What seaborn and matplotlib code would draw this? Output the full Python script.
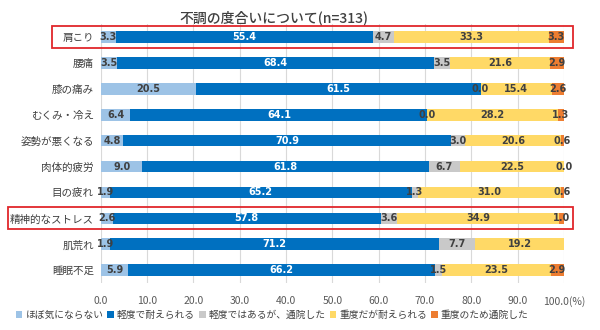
import numpy as np
import pandas as pd
import matplotlib
matplotlib.use("Agg")
import matplotlib.pyplot as plt
import seaborn as sns
from matplotlib.patches import Rectangle, Patch
from matplotlib.transforms import blended_transform_factory

sns.set_style("white")
plt.rcParams['font.family'] = ['Noto Sans CJK JP', 'DejaVu Sans']

title = "不調の度合いについて(n=313)"
categories = ["肩こり", "腰痛", "膝の痛み", "むくみ・冷え", "姿勢が悪くなる",
              "肉体的疲労", "目の疲れ", "精神的なストレス", "肌荒れ", "睡眠不足"]
series_names = ["ほぼ気にならない", "軽度で耐えられる", "軽度ではあるが、通院した",
                "重度だが耐えられる", "重度のため通院した"]
s_none = [3.3, 3.5, 20.5, 6.4, 4.8, 9.0, 1.9, 2.6, 1.9, 5.9]
s_light = [55.4, 68.4, 61.5, 64.1, 70.9, 61.8, 65.2, 57.8, 71.2, 66.2]
s_light_hosp = [4.7, 3.5, 0.0, 0.0, 3.0, 6.7, 1.3, 3.6, 7.7, 1.5]
s_severe = [33.3, 21.6, 15.4, 28.2, 20.6, 22.5, 31.0, 34.9, 19.2, 23.5]
s_severe_hosp = [3.3, 2.9, 2.6, 1.3, 0.6, 0.0, 0.6, 1.0, np.nan, 2.9]
highlight = ["肩こり", "精神的なストレス"]
xticks = [0, 10, 20, 30, 40, 50, 60, 70, 80, 90, 100]

colors = ["#9DC3E6", "#0070C0", "#C9C9C9", "#FFD966", "#ED7D31"]
label_colors = ["#404040", "white", "#404040", "#404040", "#404040"]

series = [s_none, s_light, s_light_hosp, s_severe, s_severe_hosp]
vals = np.array([np.nan_to_num(np.array(s, dtype=float)) for s in series])
cum = np.cumsum(vals, axis=0)

fig = plt.figure(figsize=(6, 3.3), dpi=100)
ax = fig.add_axes([0.168, 0.142, 0.772, 0.785])

for j in range(len(series) - 1, -1, -1):
    df = pd.DataFrame({"cat": categories, "v": cum[j]})
    sns.barplot(data=df, x="v", y="cat", orient="h", color=colors[j],
                saturation=1, width=0.45, linewidth=0, ax=ax, order=categories,
                zorder=3)

for i in range(len(categories)):
    for j in range(len(series)):
        raw = series[j][i]
        if raw is None or (isinstance(raw, float) and np.isnan(raw)):
            continue
        left = cum[j][i] - vals[j][i]
        ax.text(left + vals[j][i] / 2, i, f"{raw:.1f}", ha="center", va="center",
                fontsize=7, fontweight="bold", color=label_colors[j], zorder=5,
                family=['DejaVu Sans'])

ax.set_xlim(0, 100)
ax.set_ylim(len(categories) - 0.5, -0.5)
ax.set_xticks(xticks)
ax.set_xticklabels([f"{t:.1f}" if t != 100 else f"{t:.1f}(%)" for t in xticks],
                   fontsize=7.5, color="#595959")
ax.tick_params(axis="x", length=0, pad=9)
ax.tick_params(axis="y", length=0, pad=5, labelsize=7.6, labelcolor="#404040")
ax.set_xlabel("")
ax.set_ylabel("")
ax.grid(axis="x", color="#D9D9D9", linewidth=0.8, zorder=0)
ax.set_axisbelow(True)
for sp in ax.spines.values():
    sp.set_visible(False)

# red highlight boxes
trans = blended_transform_factory(fig.transFigure, ax.transData)
box_left = {"肩こり": 52 / 600, "精神的なストレス": 8 / 600}
for cat in highlight:
    i = categories.index(cat)
    x0 = box_left[cat]
    x1 = 573 / 600
    fig.patches.append(Rectangle((x0, i + 0.42), x1 - x0, -0.84, transform=trans,
                                 fill=False, edgecolor="#E0262B", linewidth=1.3,
                                 zorder=10))

fig.text(274 / 600, 1 - 18 / 330, title, ha="center", va="center",
         fontsize=10, fontweight="medium", color="#404040")

handles = [Patch(facecolor=c, edgecolor="none") for c in colors]
fig.legend(handles, series_names, loc="center", bbox_to_anchor=(272 / 600, 0.045),
           ncol=5, frameon=False, fontsize=7, handlelength=0.7, handleheight=0.7,
           handletextpad=0.3, columnspacing=0.4, labelcolor="#404040")

fig.savefig("out.png", dpi=100)
